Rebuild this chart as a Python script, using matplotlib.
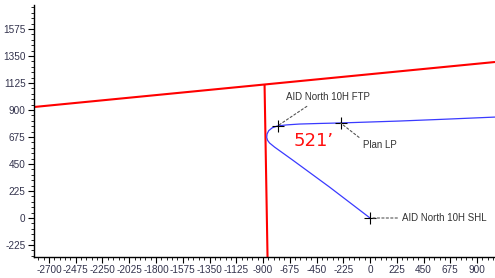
import matplotlib
matplotlib.use("Agg")
import matplotlib.pyplot as plt
from matplotlib.ticker import MultipleLocator

plt.rcParams["font.family"] = ["Liberation Sans", "DejaVu Sans"]
plt.rcParams["axes.unicode_minus"] = False

# Lease/boundary lines (red)
boundary_x = [-2826, 1051]
boundary_y = [925, 1300]
vert_x = [-887, -862]
vert_y = [1110, -325]

# Well path (blue)
path_x = [0, -341, -651, -803, -845, -862, -869, -866, -852, -822, -778, -700, -593, -420, -248, 0, 247, 600, 1051]
path_y = [0, 258, 483, 591, 625, 648, 672, 700, 728, 752, 767, 776, 783, 788, 792, 800, 808, 822, 841]

# Labelled points
pts_x = [-778, -248, 0]
pts_y = [767, 792, 0]
pts_lbl = ["AID North 10H FTP", "Plan LP", "AID North 10H SHL"]
lbl_x = [-710, -60, 265]
lbl_y = [1008, 605, 0]

xticks = [-2700, -2475, -2250, -2025, -1800, -1575, -1350, -1125, -900, -675, -450, -225, 0, 225, 450, 675, 900]
yticks = [-225, 0, 225, 450, 675, 900, 1125, 1350, 1575]

fig = plt.figure(figsize=(4.95, 2.78), dpi=100)
ax = fig.add_axes([34/495, 21/278, 1 - 34/495, (257-5)/278])
ax.set_xlim(-2826, 1051)
ax.set_ylim(-325, 1775)

ax.plot(boundary_x, boundary_y, color="#ff0000", lw=1.5, solid_capstyle="butt")
ax.plot(vert_x, vert_y, color="#ff0000", lw=1.5, solid_capstyle="butt")
ax.plot(path_x, path_y, color="#3a3aff", lw=0.9)
ax.plot(pts_x, pts_y, "k+", ms=8, mew=0.8)

tcol = "#333333"
fs = 7.0
ax.annotate(pts_lbl[0], xy=(pts_x[0], pts_y[0]), xytext=(lbl_x[0], lbl_y[0]),
            fontsize=fs, color=tcol, ha="left", va="center",
            arrowprops=dict(arrowstyle="-", ls=(0, (2, 2)), color="#555555", lw=0.8,
                            shrinkA=2, shrinkB=0, relpos=(0.33, 0)))
ax.annotate(pts_lbl[1], xy=(pts_x[1], pts_y[1]), xytext=(lbl_x[1], lbl_y[1]),
            fontsize=fs, color=tcol, ha="left", va="center",
            arrowprops=dict(arrowstyle="-", ls=(0, (2, 2)), color="#555555", lw=0.8,
                            shrinkA=1, shrinkB=0, relpos=(0.0, 1)))
ax.annotate(pts_lbl[2], xy=(pts_x[2], pts_y[2]), xytext=(lbl_x[2], lbl_y[2]),
            fontsize=fs, color=tcol, ha="left", va="center",
            arrowprops=dict(arrowstyle="-", ls=(0, (2, 2)), color="#555555", lw=0.8,
                            shrinkA=1, shrinkB=2, relpos=(0, 0.5)))

ax.text(-640, 640, "521\u2019", color="#ff1010", fontsize=13, ha="left", va="center",
        family=["DejaVu Sans"])

ax.set_xticks(xticks)
ax.set_yticks(yticks)
ax.xaxis.set_minor_locator(MultipleLocator(45))
ax.yaxis.set_minor_locator(MultipleLocator(45))
ax.tick_params(which="major", direction="out", length=4, width=0.8, labelsize=7.2,
               labelcolor="#33334d", pad=2)
ax.tick_params(which="minor", direction="out", length=2, width=0.6)
for s in ["top", "right"]:
    ax.spines[s].set_visible(False)
for s in ["left", "bottom"]:
    ax.spines[s].set_linewidth(1.0)

fig.savefig("out.png", dpi=100)
